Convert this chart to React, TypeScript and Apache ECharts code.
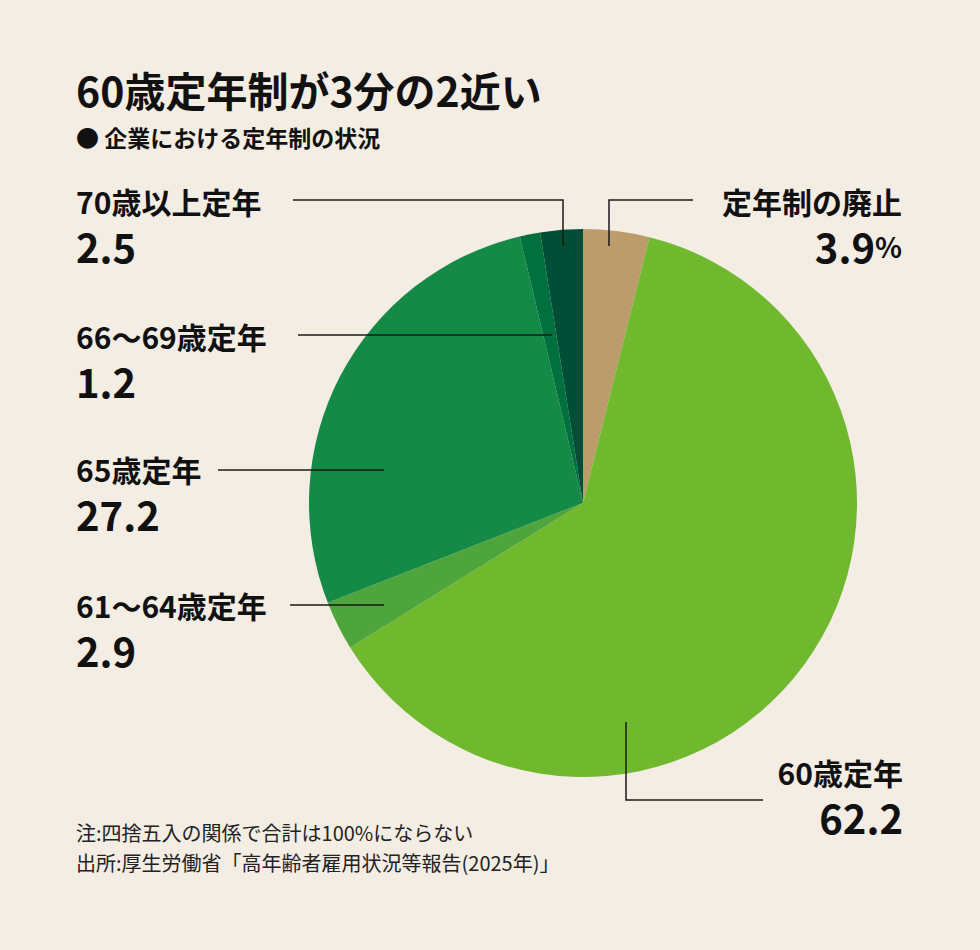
import { useEffect, useRef } from 'react';
import * as echarts from 'echarts';

// 企業における定年制の状況 (%)
const categories = ['定年制の廃止', '60歳定年', '61～64歳定年', '65歳定年', '66～69歳定年', '70歳以上定年'];
const values = [3.9, 62.2, 2.9, 27.2, 1.2, 2.5];
const colors = ['#bd9c6c', '#70b82d', '#4ea53c', '#158a46', '#00703f', '#004e35'];

// label anchor and leader line per slice (same order as categories)
const labelPos: { x: number; y: number; align: 'left' | 'right' }[] = [
  { x: 902, y: 178, align: 'right' },
  { x: 903, y: 749, align: 'right' },
  { x: 76, y: 582, align: 'left' },
  { x: 76, y: 446, align: 'left' },
  { x: 76, y: 313, align: 'left' },
  { x: 76, y: 178, align: 'left' },
];
const linePts: number[][][] = [
  [[609, 246], [609, 200], [693, 200]],
  [[626, 722], [626, 800], [763, 800]],
  [[384, 605], [337, 605], [290, 605]],
  [[384, 470], [300, 470], [218, 470]],
  [[552, 335], [420, 335], [298, 335]],
  [[563, 246], [563, 200], [293, 200]],
];

const FONT = '"Noto Sans CJK JP", "Noto Sans", sans-serif';

export default function App() {
  const chartRef = useRef<HTMLDivElement>(null);

  useEffect(() => {
    if (!chartRef.current) return;
    document.body.style.margin = '0';
    const chart = echarts.init(chartRef.current, null, { renderer: 'svg' });

    const pieData = categories.map((name, i) => ({
      name,
      value: values[i],
      itemStyle: { color: colors[i] },
    }));

    const option: echarts.EChartsOption = {
      animation: false,
      backgroundColor: '#f3ede4',
      textStyle: { fontFamily: FONT },
      title: [
        {
          text: '60歳定年制が3分の2近い',
          left: 76,
          top: 68,
          padding: 0,
          textStyle: { fontFamily: FONT, fontSize: 41, fontWeight: 'bold', color: '#111' },
        },
        {
          text: '● 企業における定年制の状況',
          left: 76,
          top: 125,
          padding: 0,
          textStyle: { fontFamily: FONT, fontSize: 23, fontWeight: 'bold', color: '#111' },
        },
        {
          text: '注:四捨五入の関係で合計は100%にならない\n出所:厚生労働省「高年齢者雇用状況等報告(2025年)」',
          left: 76,
          top: 817,
          padding: 0,
          textStyle: { fontFamily: FONT, fontSize: 20, fontWeight: 'normal', color: '#222', lineHeight: 30 },
        },
      ],
      series: [
        {
          type: 'pie',
          center: [583, 503],
          radius: [0, 274],
          startAngle: 90,
          clockwise: true,
          silent: true,
          z: 2,
          data: pieData,
          label: { show: false },
          labelLine: { show: false },
        },
        {
          // same geometry, transparent sectors: only carries labels + leader lines above the slices
          type: 'pie',
          center: [583, 503],
          radius: [0, 274],
          startAngle: 90,
          clockwise: true,
          silent: true,
          z: 3,
          data: pieData.map((d) => ({ ...d, itemStyle: { color: 'rgba(0,0,0,0)' } })),
          label: {
            show: true,
            position: 'outside',
            overflow: 'none',
            edgeDistance: 0,
            bleedMargin: 0,
            formatter: (p: any) => {
              const v = values[p.dataIndex].toFixed(1);
              return p.dataIndex === 0
                ? `{name|${p.name}}\n{val|${v}}{pct|%}`
                : `{name|${p.name}}\n{val|${v}}`;
            },
            rich: {
              name: { fontFamily: FONT, fontSize: 30, fontWeight: 'bold', color: '#111', lineHeight: 45 },
              val: { fontFamily: FONT, fontSize: 40, fontWeight: 'bold', color: '#111', lineHeight: 46 },
              pct: { fontFamily: FONT, fontSize: 28, fontWeight: 'bold', color: '#111', lineHeight: 46 },
            },
          },
          labelLine: {
            show: true,
            lineStyle: { color: '#1a1a1a', width: 1.5 },
          },
          labelLayout: (params: any) => {
            const pos = labelPos[params.dataIndex];
            return {
              x: pos.x,
              y: pos.y,
              align: pos.align,
              verticalAlign: 'top',
              labelLinePoints: linePts[params.dataIndex],
            };
          },
        },
      ],
    };

    chart.setOption(option);
    return () => {
      chart.dispose();
    };
  }, []);

  return <div ref={chartRef} style={{ width: 980, height: 950 }} />;
}
